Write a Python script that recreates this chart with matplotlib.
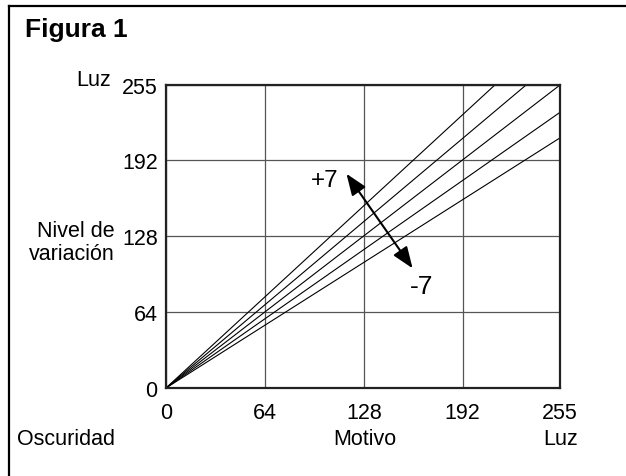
import matplotlib
matplotlib.use('Agg')
import matplotlib.pyplot as plt
from matplotlib.lines import Line2D

plt.rcParams['font.family'] = ['Liberation Sans', 'DejaVu Sans']

# data
ticks = [0, 64, 128, 192, 255]
# value each curve reaches at x = 255 (lines start at the origin)
line_ends = [305.5, 279, 255, 232, 210.5]
arrow_top = (116.8, 180.3)
arrow_bottom = (159.6, 100.7)

W, H = 626, 477
FS = 15.5
fig = plt.figure(figsize=(W / 100, H / 100), dpi=100)
ax = fig.add_axes([166 / W, 1 - 389 / H, (560 - 166) / W, (389 - 86) / H])

for end in line_ends:
    ax.plot([0, 255], [0, end], color='black', lw=0.8, clip_on=True)

ax.set_xlim(0, 255)
ax.set_ylim(0, 255)
ax.set_xticks(ticks)
ax.set_yticks(ticks)
ax.tick_params(length=0, labelsize=FS)
ax.tick_params(axis='x', pad=10)
ax.tick_params(axis='y', pad=6)
ax.grid(color='#555555', lw=0.9)
ax.set_axisbelow(True)
for s in ax.spines.values():
    s.set_linewidth(1.6)
    s.set_color('#222222')

# the +7 / -7 arrow
ax.annotate('', xy=arrow_top, xytext=arrow_bottom,
            arrowprops=dict(arrowstyle='<|-|>,head_length=0.65,head_width=0.25',
                            color='black', lw=1.5,
                            mutation_scale=20, shrinkA=0, shrinkB=0))
ax.text(102.5, 175, '+7', fontsize=17.5, ha='center', va='center')
ax.text(165.7, 86, '-7', fontsize=19, ha='center', va='center')


def px(x, y):
    return x / W, 1 - y / H


fig.text(*px(25, 30), 'Figura 1', fontsize=19, fontweight='bold', va='center', ha='left')
fig.text(*px(111, 81), 'Luz', fontsize=FS, ha='right', va='center')
fig.text(*px(115, 243), 'Nivel de\nvariación', fontsize=FS, ha='right', va='center',
         multialignment='right', linespacing=1.15)
fig.text(*px(17, 440), 'Oscuridad', fontsize=FS, ha='left', va='center')
fig.text(*px(365, 440), 'Motivo', fontsize=FS, ha='center', va='center')
fig.text(*px(561, 440), 'Luz', fontsize=FS, ha='center', va='center')

# partial frame around the figure (left and top edges)
fig.add_artist(Line2D([9 / W, 9 / W], [0, 1 - 7 / H], color='black', lw=1.6))
fig.add_artist(Line2D([9 / W, 1], [1 - 7 / H, 1 - 7 / H], color='black', lw=1.6))

fig.savefig('out.png', dpi=100)
